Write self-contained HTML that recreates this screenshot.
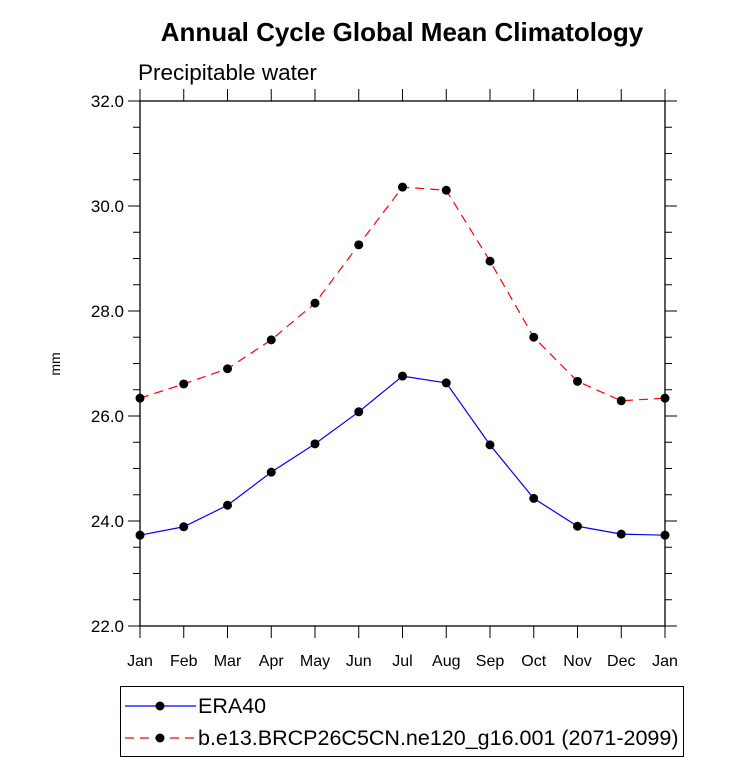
<!DOCTYPE html>
<html><head><meta charset="utf-8"><style>
body{margin:0;background:#fff;}
svg text{font-family:"Liberation Sans",Arial,sans-serif;}
</style></head><body>
<svg id="chart" width="733" height="762" xmlns="http://www.w3.org/2000/svg">
<text x="402" y="41" text-anchor="middle" font-size="26" font-weight="bold">Annual Cycle Global Mean Climatology</text>
<text x="138" y="80" font-size="22.5">Precipitable water</text>
<text transform="translate(60,364) rotate(-90)" text-anchor="middle" font-size="14">mm</text>
<g id="axes"></g>
<g id="series"></g>
<g>
<rect x="120.5" y="686.5" width="563" height="70" fill="none" stroke="#000" stroke-width="1"/>
<g>
<line x1="125" y1="706" x2="196" y2="706" stroke="#00f" stroke-width="1.2"/>
<circle cx="160" cy="706" r="4.5" fill="#000"/>
<text x="198" y="713" font-size="21.5">ERA40</text>
</g>
<g>
<line x1="125" y1="738" x2="196" y2="738" stroke="#f00" stroke-width="1.2" stroke-dasharray="9,6"/>
<circle cx="160" cy="738" r="4.5" fill="#000"/>
<text x="198" y="745" font-size="21.5">b.e13.BRCP26C5CN.ne120_g16.001 (2071-2099)</text>
</g>
</g>
</svg>
<script>
const months=["Jan","Feb","Mar","Apr","May","Jun","Jul","Aug","Sep","Oct","Nov","Dec","Jan"];
const era40=[23.73,23.89,24.30,24.93,25.47,26.08,26.76,26.63,25.45,24.43,23.90,23.75,23.73];
const model=[26.34,26.61,26.90,27.45,28.15,29.26,30.36,30.30,28.95,27.50,26.66,26.29,26.34];
const yTicks=["22.0","24.0","26.0","28.0","30.0","32.0"];
const X0=140,X1=665,Y0=626,Y1=101,YMIN=22,YMAX=32;
const NS="http://www.w3.org/2000/svg";
function xs(i){return X0+(X1-X0)*i/(months.length-1);}
function ys(v){return Y0-(v-YMIN)/(YMAX-YMIN)*(Y0-Y1);}
function mk(t,a,p){const e=document.createElementNS(NS,t);for(const k in a)e.setAttribute(k,a[k]);p.appendChild(e);return e;}
const ax=document.getElementById('axes');
const frame=mk('rect',{x:X0,y:Y1,width:X1-X0,height:Y0-Y1,fill:'none',stroke:'#000','stroke-width':1.3},ax);


for(let v=YMIN;v<=YMAX+1e-9;v+=0.5){
  const major=Math.abs(v%2)<1e-9;const L=major?12:7;const y=ys(v);
  mk('line',{x1:X0-L,y1:y,x2:X0,y2:y,stroke:'#000','stroke-width':1},ax);
  mk('line',{x1:X1,y1:y,x2:X1+L,y2:y,stroke:'#000','stroke-width':1},ax);
}
yTicks.forEach(s=>{const t=mk('text',{x:X0-16,y:ys(parseFloat(s))+6,'text-anchor':'end','font-size':17},ax);t.textContent=s;

});
months.forEach((m,i)=>{const x=xs(i);
  mk('line',{x1:x,y1:Y0,x2:x,y2:Y0+12,stroke:'#000','stroke-width':1},ax);
  mk('line',{x1:x,y1:Y1-12,x2:x,y2:Y1,stroke:'#000','stroke-width':1},ax);
  const t=mk('text',{x:x,y:Y0+40,'text-anchor':'middle','font-size':16},ax);t.textContent=m;
  
  
});
const sg=document.getElementById('series');
function draw(arr,color,dash,name){
  const p=mk('polyline',{points:arr.map((v,i)=>xs(i)+','+ys(v)).join(' '),fill:'none',stroke:color,'stroke-width':1.2},sg);
  if(dash)p.setAttribute('stroke-dasharray',dash);
  
  
  arr.forEach((v,i)=>{const c=mk('circle',{cx:xs(i),cy:ys(v),r:4.5,fill:'#000'},sg);
    
    });
}
draw(model,'#f00','9,6','model');
draw(era40,'#00f',null,'era40');
</script>
</body></html>
